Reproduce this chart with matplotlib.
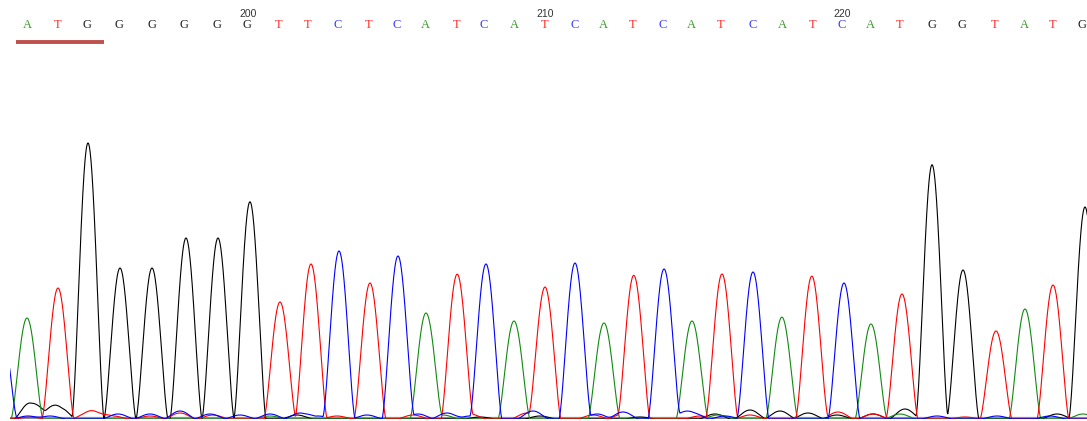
import numpy as np
import matplotlib as mpl
import matplotlib.pyplot as plt

mpl.use('Agg')

# base calls, scan position of each peak and peak height
bases = list("ATGGGGGGTTCTCATCATCATCATCATCATGGTATG")
peak_pos = [27, 58, 88, 120, 152, 186, 218, 250, 280, 311, 339, 370, 398, 426,
            457, 486, 514, 545, 575, 604, 634, 664, 692, 722, 753, 782, 812,
            844, 871, 902, 932, 963, 996, 1025, 1053, 1085]
peak_height = [101, 131, 276, 151, 151, 181, 181, 216, 117, 155, 168, 136, 163,
               106, 144, 155, 98, 132, 156, 96, 142, 150, 98, 145, 147, 96,
               139, 136, 95, 125, 253, 149, 88, 110, 134, 212]
label_pos = [27, 58, 87, 119, 152, 184, 217, 247, 279, 308, 338, 369, 397, 425,
             457, 484, 514, 545, 575, 603, 633, 663, 691, 721, 753, 782, 813,
             842, 870, 900, 932, 962, 995, 1024, 1053, 1082]

# base numbers shown above the calls
number_text = ["200", "210", "220"]
number_pos = [248, 545, 842]

# tail of the peak before the window
edge_peaks = [("C", 1, 95)]

# small background bumps: base, position, height
minor = [
    ("G", 30, 16), ("G", 47, 8), ("G", 60, 11), ("C", 28, 3), ("T", 30, 2),
    ("C", 50, 3), ("T", 88, 6), ("T", 98, 4), ("C", 118, 5), ("T", 113, 3),
    ("C", 150, 5), ("T", 150, 3), ("C", 180, 8), ("T", 180, 6), ("C", 210, 5),
    ("T", 213, 4), ("C", 240, 4), ("G", 242, 2), ("C", 270, 5), ("A", 270, 3),
    ("C", 300, 6), ("G", 297, 4), ("C", 318, 3), ("T", 337, 3), ("C", 367, 4),
    ("T", 413, 4), ("C", 418, 5), ("C", 447, 6), ("A", 443, 4), ("T", 470, 5),
    ("C", 470, 3), ("G", 480, 2), ("C", 533, 8), ("T", 527, 6), ("G", 540, 3),
    ("T", 593, 4), ("C", 597, 5), ("C", 623, 7), ("T", 623, 5), ("G", 640, 2),
    ("C", 680, 5), ("C", 693, 6), ("T", 700, 3), ("G", 715, 5), ("A", 718, 4),
    ("C", 725, 3), ("G", 750, 9), ("T", 750, 4), ("G", 780, 8), ("A", 780, 6),
    ("G", 808, 6), ("T", 806, 5), ("T", 838, 7), ("G", 837, 4), ("G", 873, 5),
    ("T", 873, 5), ("G", 905, 10), ("A", 900, 5), ("C", 937, 3), ("G", 940, 2),
    ("C", 997, 3), ("T", 965, 2), ("G", 1057, 5), ("C", 1050, 3), ("A", 1083, 5),
]

trace_color = {"A": "#118a11", "C": "#0000ff", "G": "#000000", "T": "#ff0000"}
letter_color = {"A": "#3a9a2a", "C": "#3838ff", "G": "#202020", "T": "#ff2a2a"}

HALF_WIDTH = 16


def bump(x, c, h, w=HALF_WIDTH):
    d = np.clip((x - c) / w, -1, 1)
    return h * np.cos(np.pi * d / 2) ** 1.5


scan = np.arange(0, 1100, 0.25)
signal = {b: np.zeros_like(scan) for b in "ACGT"}
for b, c, h in zip(bases, peak_pos, peak_height):
    signal[b] += bump(scan, c, h)
for b, c, h in edge_peaks:
    signal[b] += bump(scan, c, h)
for b, c, h in minor:
    signal[b] += bump(scan, c, h)

fig = plt.figure(figsize=(10.87, 4.21), dpi=100)
ax = fig.add_axes([10 / 1087, 2 / 421, 1077 / 1087, 419 / 421])
ax.set_xlim(10, 1087)
ax.set_ylim(0, 419)
ax.axis('off')

# grey baseline
ax.axhline(0.6, color="#8c8c8c", lw=1.6, zorder=1)

for b in ["G", "A", "T", "C"]:
    ax.plot(scan, signal[b], color=trace_color[b], lw=0.8, zorder=2)

# base calls along the top
for b, x in zip(bases, label_pos):
    ax.text(x, 419 - 25, b, color=letter_color[b], fontsize=9,
            family="Liberation Serif", ha="center", va="center", clip_on=False)

for t, x in zip(number_text, number_pos):
    ax.text(x, 419 - 14, t, color="#333333", fontsize=7.5,
            family="Liberation Sans", ha="center", va="center", clip_on=False)

# start codon underline
ax.plot([label_pos[0] - 11, label_pos[2] + 17], [419 - 41.5, 419 - 41.5],
        color="#c0504d", lw=2.8, solid_capstyle="butt", clip_on=False)

plt.savefig("out.png", dpi=100)
plt.close()
